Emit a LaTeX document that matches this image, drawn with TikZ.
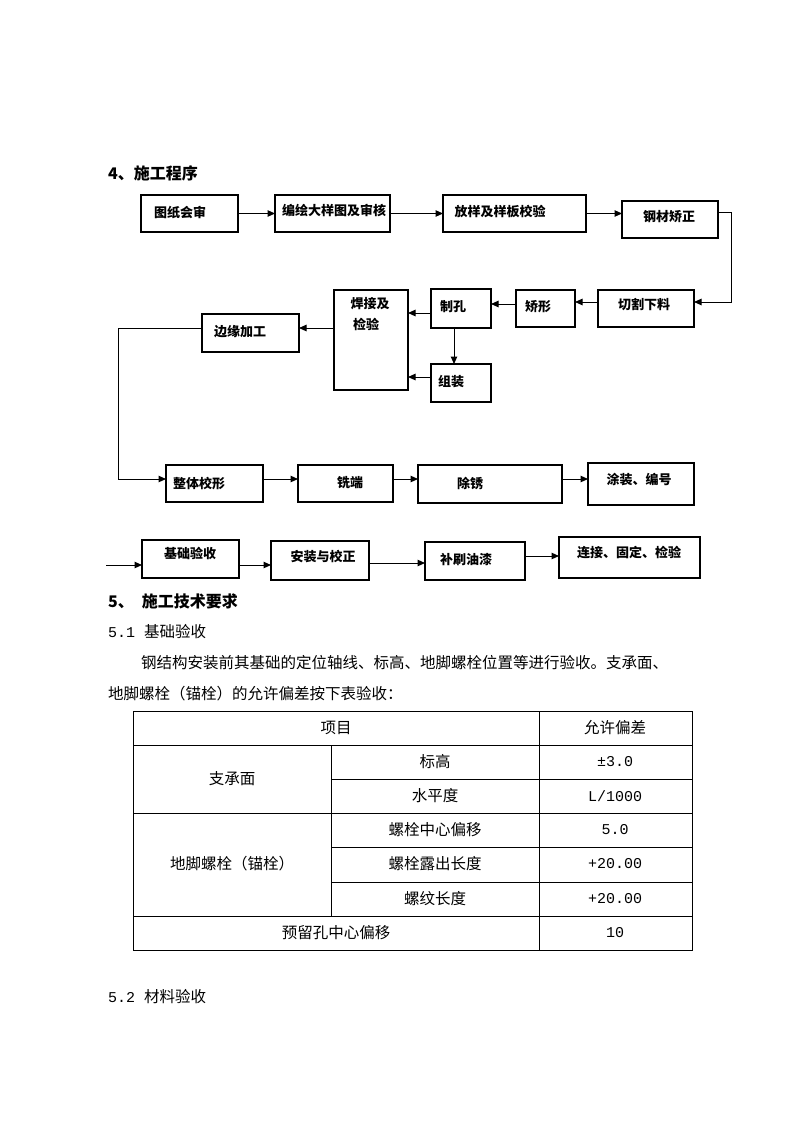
\documentclass[tikz,border=0pt]{standalone}
\usepackage{fontspec}
\newfontfamily\cjk{Noto Sans CJK SC}
\newfontfamily\monof{Liberation Mono}
\usetikzlibrary{arrows.meta}
\begin{document}
\begin{tikzpicture}[x=1pt,y=-1pt,
  box/.style={draw, line width=1.2pt, inner sep=0pt, outer sep=0pt},
  lbl/.style={font=\cjk\bfseries\fontsize{13}{15}\selectfont, inner sep=0pt},
  arr/.style={line width=1pt, -{Triangle[length=7.5pt,width=6.5pt]}},
  tl/.style={line width=1pt},
  head/.style={font=\cjk\bfseries\fontsize{16}{18}\selectfont, inner sep=0pt, anchor=west},
  body/.style={font=\cjk\fontsize{15.5}{18}\selectfont, inner sep=0pt, anchor=west},
  cell/.style={font=\cjk\fontsize{15.5}{18}\selectfont, inner sep=0pt},
  num/.style={font=\monof\fontsize{15}{18}\selectfont, inner sep=0pt}]
\useasboundingbox[fill=white] (0,0) rectangle (794,1123);

% headings
\node[head] (h4) at (108,173) {4、施工程序};

% row 1
\node[box, minimum width=97pt, minimum height=37pt] (a1) at (189.5,213.5) {};
\node[box, minimum width=115pt, minimum height=37pt] (a2) at (332.5,213.5) {};
\node[box, minimum width=143pt, minimum height=37pt] (a3) at (514.5,213.5) {};
\node[box, minimum width=96pt, minimum height=37pt] (a4) at (670,219.5) {};
\node[lbl] (ta1) at (180,213) {图纸会审};
\node[lbl] (ta2) at (334,210) {编绘大样图及审核};
\node[lbl] (ta3) at (500,212) {放样及样板校验};
\node[lbl] (ta4) at (669,217) {钢材矫正};

% row 2
\node[box, minimum width=96pt, minimum height=37pt] (b1) at (646,308.5) {};
\node[box, minimum width=59pt, minimum height=37pt] (b2) at (545.5,308.5) {};
\node[box, minimum width=60pt, minimum height=39pt] (b3) at (461,308.5) {};
\node[box, minimum width=74pt, minimum height=100pt] (b4) at (371,340) {};
\node[box, minimum width=60pt, minimum height=38pt] (b5) at (461,383) {};
\node[box, minimum width=97pt, minimum height=38pt] (b6) at (250.5,333) {};
\node[lbl] (tb1) at (644,305) {切割下料};
\node[lbl] (tb2) at (538,307) {矫形};
\node[lbl] (tb3) at (453,307) {制孔};
\node[lbl] (tb4a) at (370,304) {焊接及};
\node[lbl] (tb4b) at (366,324) {检验};
\node[lbl] (tb5) at (451,382) {组装};
\node[lbl] (tb6) at (240,332) {边缘加工};

% row 3
\node[box, minimum width=97pt, minimum height=37pt] (d1) at (214.5,483.5) {};
\node[box, minimum width=95pt, minimum height=37pt] (d2) at (345.5,483.5) {};
\node[box, minimum width=144pt, minimum height=38pt] (d3) at (490,484) {};
\node[box, minimum width=106pt, minimum height=42pt] (d4) at (641,484) {};
\node[lbl] (td1) at (199,484) {整体校形};
\node[lbl] (td2) at (350,483) {铣端};
\node[lbl] (td3) at (470,483) {除锈};
\node[lbl] (td4) at (639,480) {涂装、编号};

% row 4
\node[box, minimum width=97pt, minimum height=38pt] (e1) at (190.5,559) {};
\node[box, minimum width=98pt, minimum height=39pt] (e2) at (320,560.5) {};
\node[box, minimum width=100pt, minimum height=38pt] (e3) at (475,561) {};
\node[box, minimum width=141pt, minimum height=41pt] (e4) at (629.5,557.5) {};
\node[lbl] (te1) at (190,553) {基础验收};
\node[lbl] (te2) at (323,557) {安装与校正};
\node[lbl] (te3) at (466,560) {补刷油漆};
\node[lbl] (te4) at (629,553) {连接、固定、检验};

% helper coordinates
\coordinate (k1) at (731,213);
\coordinate (k2) at (731,302);
\coordinate (k3) at (0,304);
\coordinate (k4) at (0,313);
\coordinate (k5) at (454,0);
\coordinate (k6) at (0,377);
\coordinate (k7) at (118,328);
\coordinate (k8) at (118,479);
\coordinate (k9) at (106,565);
\coordinate (k10) at (0,563);
\coordinate (k11) at (0,556);

% connectors
\draw[arr] (a1.east) -- (a2.west);
\draw[arr] (a2.east) -- (a3.west);
\draw[arr] (a3.east) -- (a3.east -| a4.west);
\draw[arr] (a4.east |- k1) -- (k1) -- (k2) -- (k2 -| b1.east);
\draw[arr] (b1.west |- k2) -- (b2.east |- k2);
\draw[arr] (b2.west |- k3) -- (b3.east |- k3);
\draw[arr] (b3.west |- k4) -- (b4.east |- k4);
\draw[arr] (b3.south -| k5) -- (b5.north -| k5);
\draw[arr] (b5.west |- k6) -- (b4.east |- k6);
\draw[arr] (b4.west |- k7) -- (b6.east |- k7);
\draw[arr] (b6.west |- k7) -- (k7) -- (k8) -- (d1.west |- k8);
\draw[arr] (d1.east |- k8) -- (d2.west |- k8);
\draw[arr] (d2.east |- k8) -- (d3.west |- k8);
\draw[arr] (d3.east |- k8) -- (d4.west |- k8);
\draw[arr] (k9) -- (e1.west |- k9);
\draw[arr] (e1.east |- k9) -- (e2.west |- k9);
\draw[arr] (e2.east |- k10) -- (e3.west |- k10);
\draw[arr] (e3.east |- k11) -- (e4.west |- k11);

% section 5 text
\node[head] (h5) at (108,601) {5、\hspace{8pt}施工技术要求};
\node[body] (s51) at (108,632) {{\monof\fontsize{15}{18}\selectfont 5.1 }基础验收};
\node[body] (p1) at (141,663) {钢结构安装前其基础的定位轴线、标高、地脚螺栓位置等进行验收。支承面、};
\node[body] (p2) at (108,694) {地脚螺栓（锚栓）的允许偏差按下表验收：};

% table
\draw[tl] (133,711) rectangle (692,950);
\draw[tl] (133,745) -- (692,745);
\draw[tl] (133,813) -- (692,813);
\draw[tl] (133,916) -- (692,916);
\draw[tl] (331,779) -- (692,779);
\draw[tl] (331,847) -- (692,847);
\draw[tl] (331,882) -- (692,882);
\draw[tl] (539,711) -- (539,950);
\draw[tl] (331,745) -- (331,916);

\node[cell] (c11) at (336,728) {项目};
\node[cell] (c12) at (615,728) {允许偏差};
\node[cell] (c21) at (232,779) {支承面};
\node[cell] (c22) at (435,762) {标高};
\node[num] (c23) at (615,762) {±3.0};
\node[cell] (c32) at (435,796) {水平度};
\node[num] (c33) at (615,796) {L/1000};
\node[cell] (c41) at (232,864) {地脚螺栓（锚栓）};
\node[cell] (c42) at (435,830) {螺栓中心偏移};
\node[num] (c43) at (615,830) {5.0};
\node[cell] (c52) at (435,864) {螺栓露出长度};
\node[num] (c53) at (615,864) {+20.00};
\node[cell] (c62) at (435,899) {螺纹长度};
\node[num] (c63) at (615,899) {+20.00};
\node[cell] (c71) at (336,933) {预留孔中心偏移};
\node[num] (c73) at (615,933) {10};

\node[body] (s52) at (108,997) {{\monof\fontsize{15}{18}\selectfont 5.2 }材料验收};
\end{tikzpicture}
\end{document}
